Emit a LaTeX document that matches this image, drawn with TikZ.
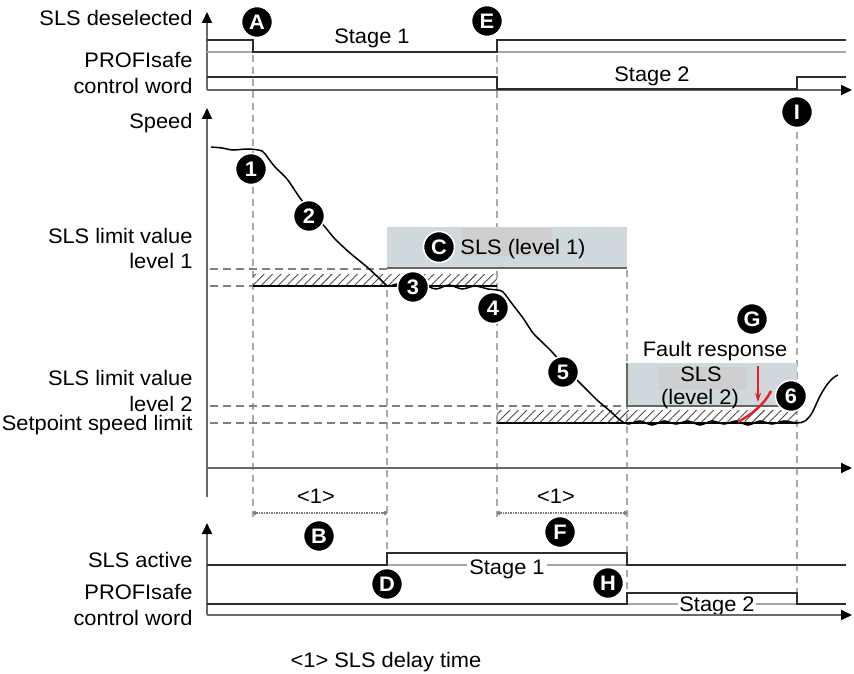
\documentclass[tikz,border=0pt]{standalone}
\usepackage{fontspec}
\setmainfont[FakeStretch=1.04]{Liberation Sans}
\usetikzlibrary{arrows.meta,patterns.meta}
\definecolor{slsbox}{RGB}{207,217,221}
\definecolor{coverg}{RGB}{205,207,209}
\definecolor{axisgray}{RGB}{105,105,105}
\definecolor{sigdark}{RGB}{45,45,45}
\definecolor{basegray}{RGB}{165,165,165}
\definecolor{guidegray}{RGB}{170,170,170}
\definecolor{faultred}{RGB}{230,30,35}

\begin{document}
\begin{tikzpicture}[x=1pt,y=-1pt,
    every node/.style={font=\fontsize{21}{25}\selectfont},
    lbl/.style={anchor=base east},
    txt/.style={anchor=base},
    callout/.style={circle, fill=black, draw=white, line width=1.5pt, text=white,
      inner sep=0pt, minimum size=31pt, font=\fontsize{21}{21}\selectfont\bfseries},
    axis/.style={line width=1.9pt, axisgray, -{Triangle[width=10pt,length=11pt,color=black]}},
    sig/.style={line width=1.9pt, sigdark},
    baseln/.style={line width=1.5pt, basegray},
    guide/.style={line width=1.3pt, guidegray, dash pattern=on 7pt off 5pt},
    limit/.style={line width=1.2pt, gray, dash pattern=on 8pt off 5pt},
    delay/.style={line width=1.5pt, gray, dash pattern=on 1.5pt off 1pt, {Circle[length=4pt]}-{Circle[length=4pt]}},
    hatch/.style={pattern={Lines[angle=45,distance=6pt,line width=0.9pt]}, pattern color=black!70},
    speed/.style={line width=1.5pt, black}]
\useasboundingbox (0,0) rectangle (854,674);

% guide lines
\draw[guide] (253,55) -- (253,517);
\draw[guide] (387,290) -- (387,553);
\draw[guide] (497,55) -- (497,517);
\draw[guide] (627,270) -- (627,593);
\draw[guide] (797,96) -- (797,593);
\draw[limit] (210,269) -- (387,269);
\draw[limit] (210,286) -- (253,286);
\draw[limit] (210,406) -- (627,406);
\draw[limit] (210,423) -- (497,423);

% SLS boxes
\fill[slsbox] (387,227) rectangle (627,268);
\fill[coverg] (462,228) rectangle (552,256);
\draw[line width=1.3pt, black!60] (387,268) -- (627,268);
\fill[slsbox] (627,363) rectangle (797,406);
\fill[coverg] (659,367) rectangle (747,390);
\draw[line width=1.3pt, black!60] (627,363) -- (627,406) -- (797,406);

% tolerance bands
\fill[hatch] (253,274) rectangle (497,285);
\draw[line width=2.2pt] (253,286) -- (497,286);
\fill[hatch] (497,410) rectangle (797,421);
\draw[line width=2.2pt] (497,423) -- (797,423);

% top signals
\draw[axis] (207,90) -- (207,12);
\draw[baseln] (207,52) -- (846,52);
\draw[sig] (207,40) -- (253,40) -- (253,52) -- (497,52) -- (497,40) -- (846,40);
\draw[axis] (207,90) -- (852,90);
\draw[sig] (207,77) -- (497,77) -- (497,89) -- (797,89) -- (797,77) -- (846,77);

% speed
\draw[axis] (207,497) -- (207,108);
\draw[axis] (207,468) -- (852,468);
\draw[speed] plot[smooth, tension=0.5] coordinates {(211,147) (222,148) (233,150) (248,149)
  (262,151) (268,158) (275,167) (287,179) (300,198) (312,213) (325,227) (335,239) (350,253)
  (367,267) (380,279) (388,286) (398,284) (410,288) (423,285) (436,289) (449,285) (462,289)
  (475,286) (488,289) (497,290) (503,292) (513,305) (523,318) (533,333) (543,343) (553,353)
  (565,367) (577,380) (587,390) (597,400) (610,411) (620,420) (628,424) (640,421) (652,425)
  (664,421) (676,424) (688,421) (700,425) (712,421) (724,424) (736,421) (748,425) (760,421)
  (772,424) (784,421) (797,423) (805,421) (812,413) (819,398) (826,386) (833,378) (838,375)};
\draw[faultred, line width=2.4pt] (738,422) .. controls (752,414) and (764,405) .. (771,391);
\draw[faultred, line width=1.3pt, -{Stealth[length=9pt,width=6pt]}] (758,366) -- (758,402);

% delay times
\draw[delay] (253,513) -- (387,513);
\draw[delay] (497,513) -- (627,513);
\node[txt] (delay1) at (316,503) {<1>};
\node[txt] (delay2) at (556,503) {<1>};

% bottom signals
\draw[axis] (207,615) -- (207,523);
\draw[baseln] (387,565) -- (627,565);
\draw[sig] (207,565) -- (387,565) -- (387,553) -- (627,553) -- (627,565) -- (846,565);
\draw[baseln] (627,604) -- (797,604);
\draw[sig] (207,604) -- (627,604) -- (627,593) -- (797,593) -- (797,604) -- (846,604);
\node[txt, fill=white, inner sep=2pt] (stage1b) at (507,574) {Stage 1};
\node[txt, fill=white, inner sep=1pt] (stage2b) at (717,611) {Stage 2};
\draw[axis] (207,615) -- (852,615);

% texts
\node[lbl] (deselected) at (196,26) {SLS deselected};
\node[lbl] (profi1) at (196,68) {PROFIsafe};
\node[lbl] (ctrl1) at (196,94) {control word};
\node[lbl] (speedlbl) at (196,129) {Speed};
\node[lbl] (limit1a) at (196,243) {SLS limit value};
\node[lbl] (limit1b) at (196,268) {level 1};
\node[lbl] (limit2a) at (196,385) {SLS limit value};
\node[lbl] (limit2b) at (196,411) {level 2};
\node[lbl] (setpoint) at (196,430) {Setpoint speed limit};
\node[lbl] (active) at (196,567) {SLS active};
\node[lbl] (profi2) at (196,599) {PROFIsafe};
\node[lbl] (ctrl2) at (196,625) {control word};
\node[txt] (stage1t) at (372,44) {Stage 1};
\node[txt] (stage2t) at (652,82) {Stage 2};
\node[txt] (sls1) at (523,254) {SLS (level 1)};
\node[txt] (sls2a) at (701,381) {SLS};
\node[txt] (sls2b) at (700,404) {(level 2)};
\node[txt] (fault) at (715,356) {Fault response};
\node[txt] (note) at (386,667) {<1> SLS delay time};

% callouts
\node[callout] (ca) at (257,22) {A};
\node[callout] (cb) at (319,536) {B};
\node[callout] (cc) at (439,247) {C};
\node[callout] (cd) at (387,584) {D};
\node[callout] (ce) at (487,21) {E};
\node[callout] (cf) at (560,532) {F};
\node[callout] (cg) at (752,319) {G};
\node[callout] (ch) at (608,583) {H};
\node[callout] (ci) at (797,112) {I};
\node[callout] (c1) at (251,169) {1};
\node[callout] (c2) at (309,216) {2};
\node[callout] (c3) at (413,287) {3};
\node[callout] (c4) at (493,308) {4};
\node[callout] (c5) at (563,372) {5};
\node[callout] (c6) at (791,396) {6};
\end{tikzpicture}
\end{document}
